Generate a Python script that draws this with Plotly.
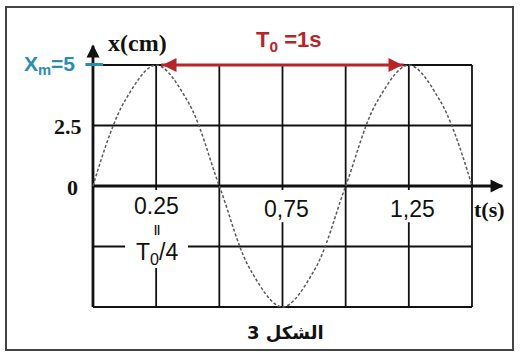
import plotly.graph_objects as go

# points (t in s, x in cm)
t_s = [0, 0.125, 0.25, 0.375, 0.5, 0.625, 0.75, 0.875, 1.0, 1.125, 1.25, 1.375, 1.5]
x_cm = [0, 3.5, 5, 3.5, 0, -3.5, -5, -3.5, 0, 3.5, 5, 3.5, 0]

grid_t = [0, 0.25, 0.5, 0.75, 1.0, 1.25, 1.5]
grid_x = [-5, -2.5, 0, 2.5, 5]

t_tick_vals = [0.75, 1.25]
t_tick_text = ["0,75", "1,25"]
x_tick_vals = [2.5, 0]
x_tick_text = ["2.5", "0"]

BLUE = "#2c8cb4"
RED = "#b8242a"
INK = "#111"
SERIF = "Liberation Serif"
SANS = "Liberation Sans"

fig = go.Figure()

# grid
gx, gy = [], []
for t in grid_t:
    gx += [t, t, None]
    gy += [grid_x[0], grid_x[-1], None]
for v in grid_x:
    gx += [grid_t[0], grid_t[-1], None]
    gy += [v, v, None]
fig.add_trace(go.Scatter(x=gx, y=gy, mode="lines", line=dict(color=INK, width=1.8),
                         hoverinfo="skip", showlegend=False))

# axes with arrow heads
fig.add_trace(go.Scatter(x=[0, 1.62, None, 0, 0], y=[0, 0, None, -5, 5.8], mode="lines",
                         line=dict(color=INK, width=2.8), hoverinfo="skip", showlegend=False))
fig.add_trace(go.Scatter(x=[1.625, 0], y=[0, 5.85], mode="markers",
                         marker=dict(symbol=["arrow-right", "arrow-up"], size=13, color=INK),
                         hoverinfo="skip", showlegend=False))

# dashed curve
fig.add_trace(go.Scatter(x=t_s, y=x_cm, mode="lines", line_shape="spline",
                         line=dict(color="#5a5a5a", width=1.5, dash="3px,2px"),
                         hoverinfo="skip", showlegend=False))

# period arrow T0
fig.add_trace(go.Scatter(x=[0.27, 1.23], y=[5, 5], mode="lines",
                         line=dict(color=RED, width=3.2), hoverinfo="skip", showlegend=False))
fig.add_trace(go.Scatter(x=[0.275, 1.225], y=[5, 5], mode="markers",
                         marker=dict(symbol=["arrow-left", "arrow-right"], size=14, color=RED),
                         hoverinfo="skip", showlegend=False))

# blue tick at Xm
fig.add_trace(go.Scatter(x=[-0.03, 0.04], y=[5.02, 5.02], mode="lines",
                         line=dict(color=BLUE, width=3), hoverinfo="skip", showlegend=False))

ann = []
for v, txt in zip(t_tick_vals, t_tick_text):
    ann.append(dict(x=v + 0.016, y=-0.95, text=txt, showarrow=False,
                    font=dict(family=SANS, size=23, color=INK)))
for v, txt in zip(x_tick_vals, x_tick_text):
    ann.append(dict(x=-0.1 if txt != "0" else -0.083, y=v - 0.06, text="<b>" + txt + "</b>",
                    showarrow=False, font=dict(family=SERIF, size=22, color=INK)))

ann.append(dict(x=0.253, y=-0.83, text="0.25", showarrow=False, borderpad=0,
                font=dict(family=SANS, size=23, color=INK)))
ann.append(dict(x=0.253, y=-1.76, text="<b>||</b>", showarrow=False, borderpad=0,
                font=dict(family=SANS, size=11, color=INK)))
ann.append(dict(x=0.253, y=-2.78, text="T<sub>0</sub>/4", showarrow=False, borderpad=0,
                font=dict(family=SANS, size=23, color=INK)))

ann.append(dict(x=1.571, y=-0.99, text="<b>t(s)</b>", showarrow=False,
                font=dict(family=SERIF, size=22, color=INK)))
ann.append(dict(x=0.178, y=5.91, text="<b>x(cm)</b>", showarrow=False,
                font=dict(family=SERIF, size=24, color=INK)))
ann.append(dict(x=0.772, y=6.0, text="<b>T<sub>0</sub> =1s</b>", showarrow=False,
                font=dict(family=SANS, size=22, color=RED)))
ann.append(dict(x=-0.174, y=5.0, text="<b>X<sub>m</sub>=5</b>", showarrow=False,
                font=dict(family=SANS, size=21, color=BLUE)))
ann.append(dict(x=0.76, y=-6.07, text="<b>الشكل 3</b>", showarrow=False,
                font=dict(family="DejaVu Sans", size=18, color=INK)))

fig.update_layout(
    width=520, height=354,
    margin=dict(l=0, r=0, t=0, b=0),
    paper_bgcolor="white", plot_bgcolor="white",
    xaxis=dict(range=[-0.368, 1.690], visible=False, fixedrange=True),
    yaxis=dict(range=[-6.942, 7.686], visible=False, fixedrange=True),
    annotations=ann,
    shapes=[
        # white patches behind the tick labels
        dict(type="rect", xref="x", yref="y", x0=0.127, x1=0.376, y0=-3.39, y1=-0.17,
             fillcolor="white", line=dict(width=0), layer="above"),
        dict(type="rect", xref="x", yref="y", x0=0.67, x1=0.87, y0=-1.5, y1=-0.17,
             fillcolor="white", line=dict(width=0), layer="above"),
        dict(type="rect", xref="x", yref="y", x0=1.16, x1=1.36, y0=-1.5, y1=-0.17,
             fillcolor="white", line=dict(width=0), layer="above"),
        dict(type="rect", xref="paper", yref="paper",
             x0=6 / 520, x1=513 / 520, y0=1 - 350 / 354, y1=1 - 7 / 354,
             line=dict(color="#444", width=2)),
    ],
    showlegend=False,
)

fig.write_html("out.html", config={"displayModeBar": False},
               post_script="document.body.style.margin='0';")
